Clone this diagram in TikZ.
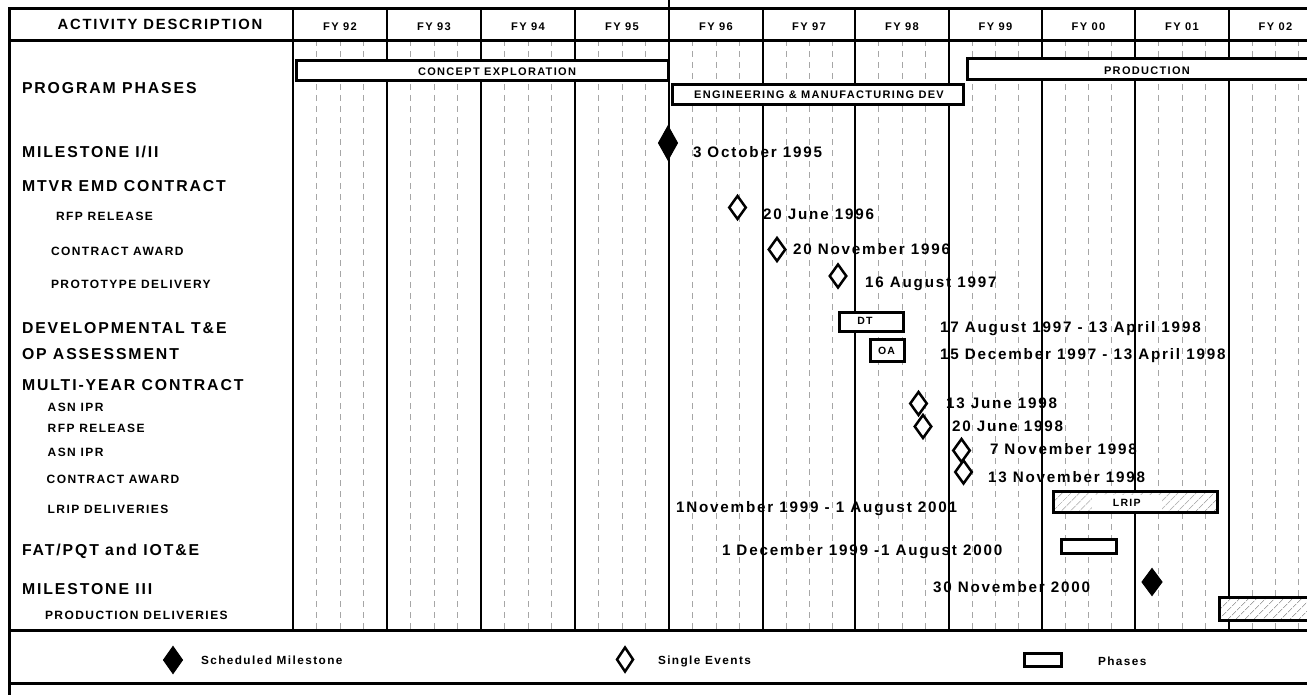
\documentclass[tikz,border=0pt]{standalone}
\usepackage{fontspec}
\setmainfont{Liberation Sans}
\newfontfamily\lsf[LetterSpace=12]{Liberation Sans}
\usetikzlibrary{shapes.geometric,patterns.meta}
\tikzset{
  txt/.style={inner sep=0pt, outer sep=0pt, text depth=0pt},
  big/.style={txt, anchor=west, font=\lsf\bfseries\fontsize{15.8}{18}\selectfont, text height=11.3pt},
  small/.style={txt, anchor=west, font=\lsf\bfseries\fontsize{12}{14}\selectfont, text height=8.6pt},
  date/.style={txt, anchor=west, font=\lsf\bfseries\fontsize{15.2}{18}\selectfont, text height=10.9pt},
  hdr/.style={txt, anchor=center, font=\lsf\bfseries\fontsize{14.8}{17}\selectfont, text height=10.6pt},
  fy/.style={txt, anchor=center, font=\lsf\bfseries\fontsize{11.1}{13}\selectfont, text height=7.95pt},
  boxt/.style={txt, anchor=center, font=\lsf\bfseries\fontsize{11}{13}\selectfont, text height=7.9pt},
  tiny/.style={txt, anchor=center, font=\lsf\bfseries\fontsize{10.5}{12}\selectfont, text height=7.5pt},
  leg/.style={txt, anchor=west, font=\lsf\bfseries\fontsize{11.8}{14}\selectfont, text height=8.45pt},
  gridd/.style={draw=black!35, line width=0.8pt, dash pattern=on 6pt off 5pt},
  yearline/.style={line width=1.6pt},
  phase/.style={draw, line width=3pt, fill=white, inner sep=0pt, outer sep=0pt, rectangle},
  hatchbox/.style={draw, line width=3pt, inner sep=0pt, outer sep=0pt, rectangle,
     preaction={fill=white}, pattern={Lines[angle=45,distance=6.5pt,line width=0.5pt]}, pattern color=black!55},
  evt/.style={diamond, draw, fill=white, line width=2.5pt, inner sep=0pt, outer sep=0pt,
     minimum width=16.5pt, minimum height=23pt},
  mile/.style={diamond, draw, fill=black, line width=1pt, inner sep=0pt, outer sep=0pt}
}
\begin{document}
\begin{tikzpicture}[x=1pt,y=-1pt]
\useasboundingbox (0,0) rectangle (1307,695);
% dashed quarter grid
\foreach \a/\b in {293/387,387/481,481/575,575/669,669/763,763/855,855/949,949/1042,1042/1135,1135/1229,1229/1322}{
  \foreach \k in {1,2,3}{
    \draw[gridd] ({\a+(\b-\a)*\k/4},40) -- ({\a+(\b-\a)*\k/4},630);
  }
}
% year lines
\foreach \x in {387,481,575,763,855,949,1042,1135,1229}{
  \draw[yearline] (\x,8) -- (\x,630);
}
\draw[yearline] (669,0) -- (669,630);
\draw[line width=2pt] (293,8) -- (293,630);
% frame
\draw[line width=3pt] (1312,8.5) -- (9.5,8.5) -- (9.5,695);
\draw[line width=2.5pt] (9,40.5) -- (1312,40.5);
\draw[line width=3pt] (9,630) -- (1312,630);
\draw[line width=3.5pt] (9,683.5) -- (1312,683.5);

% header
\node[hdr] (hact) at (160,24.3) {ACTIVITY DESCRIPTION};
\node[fy] (fy92) at (340,27) {FY 92};
\node[fy] (fy93) at (434,27) {FY 93};
\node[fy] (fy94) at (528,27) {FY 94};
\node[fy] (fy95) at (622,27) {FY 95};
\node[fy] (fy96) at (716,27) {FY 96};
\node[fy] (fy97) at (809,27) {FY 97};
\node[fy] (fy98) at (902,27) {FY 98};
\node[fy] (fy99) at (995.5,27) {FY 99};
\node[fy] (fy00) at (1088.5,27) {FY 00};
\node[fy] (fy01) at (1182,27) {FY 01};
\node[fy] (fy02) at (1275.5,27) {FY 02};

% left labels
\node[big] (lpp) at (22,88.3) {PROGRAM PHASES};
\node[big] (lm1) at (22,152.3) {MILESTONE I/II};
\node[big] (lmtvr) at (22,185.7) {MTVR EMD CONTRACT};
\node[small] (lrfp1) at (56,216) {RFP RELEASE};
\node[small] (lca1) at (51,250.7) {CONTRACT AWARD};
\node[small] (lpd) at (51,284) {PROTOTYPE DELIVERY};
\node[big] (ldte) at (22,327.7) {DEVELOPMENTAL T\&E};
\node[big] (loa) at (22,354.3) {OP ASSESSMENT};
\node[big] (lmyc) at (22,385) {MULTI-YEAR CONTRACT};
\node[small] (lasn1) at (47.7,406.7) {ASN IPR};
\node[small] (lrfp2) at (47.7,428) {RFP RELEASE};
\node[small] (lasn2) at (47.7,452.3) {ASN IPR};
\node[small] (lca2) at (46.7,479) {CONTRACT AWARD};
\node[small] (llrip) at (47.7,509) {LRIP DELIVERIES};
\node[big] (lfat) at (22,550) {FAT/PQT and IOT\&E};
\node[big] (lm3) at (22,589) {MILESTONE III};
\node[small] (lprod) at (45,615) {PRODUCTION DELIVERIES};

% program phases
\node[phase, minimum width=371.5pt, minimum height=19.7pt] (ce) at (482.3,70.35) {};
\node[boxt] (cet) at (497,71.7) {CONCEPT EXPLORATION};
\node[phase, minimum width=291pt, minimum height=19.7pt] (emd) at (817.5,94.65) {};
\node[boxt] (emdt) at (819,95) {ENGINEERING \& MANUFACTURING DEV};
\node[phase, minimum width=363pt, minimum height=20.7pt] (prodph) at (1148.5,69.2) {};
\node[boxt] (prodt) at (1147,70.3) {PRODUCTION};

% milestones and events
\node[mile, minimum width=19pt, minimum height=34pt] (m1) at (668,143) {};
\node[date] (dm1) at (693,152) {3 October 1995};
\node[evt] (e1) at (737.5,207.5) {};
\node[date] (de1) at (763,214) {20 June 1996};
\node[evt] (e2) at (777,249.5) {};
\node[date] (de2) at (793,249) {20 November 1996};
\node[evt] (e3) at (838,276) {};
\node[date] (de3) at (865,282) {16 August 1997};

\node[phase, minimum width=64pt, minimum height=19.3pt] (dt) at (871.5,321.9) {};
\node[tiny] (dtt) at (865,320.5) {DT};
\node[date] (ddt) at (940,327) {17 August 1997 - 13 April 1998};
\node[phase, minimum width=34pt, minimum height=22pt] (oa) at (887.5,350.5) {};
\node[tiny] (oat) at (886.5,350.7) {OA};
\node[date] (doa) at (940,354) {15 December 1997 - 13 April 1998};

\node[evt] (e4) at (918.5,403.5) {};
\node[date] (de4) at (946,403) {13 June 1998};
\node[evt] (e5) at (923,426.5) {};
\node[date] (de5) at (952,426) {20 June 1998};
\node[evt] (e6) at (961.5,450.5) {};
\node[date] (de6) at (990,449) {7 November 1998};
\node[evt] (e7) at (963.5,472) {};
\node[date] (de7) at (988,477) {13 November 1998};

\node[hatchbox, minimum width=164.6pt, minimum height=21pt] (lrip) at (1135.5,502) {};
\node[tiny, fill=white, minimum width=70pt, minimum height=16pt] (lript) at (1126.7,503) {LRIP};
\node[date] (dlrip) at (676,507) {1November 1999 - 1 August 2001};

\node[phase, minimum width=55.3pt, minimum height=13.7pt] (fat) at (1089.2,546.7) {};
\node[date] (dfat) at (722,550) {1 December 1999 -1 August 2000};

\node[mile, minimum width=20pt, minimum height=27pt] (m3) at (1152,582) {};
\node[date] (dm3) at (933,587) {30 November 2000};

\node[hatchbox, minimum width=110.2pt, minimum height=22.7pt] (pd) at (1275,608.9) {};

% legend
\node[mile, minimum width=19pt, minimum height=27pt] (lgm) at (173,660) {};
\node[leg] (lgmt) at (201,660) {Scheduled Milestone};
\node[evt, minimum width=16pt, minimum height=24pt] (lge) at (625,659.5) {};
\node[leg] (lget) at (658,660) {Single Events};
\node[phase, minimum width=37pt, minimum height=13pt] (lgp) at (1043,660) {};
\node[leg] (lgpt) at (1098,661) {Phases};
\end{tikzpicture}
\end{document}
